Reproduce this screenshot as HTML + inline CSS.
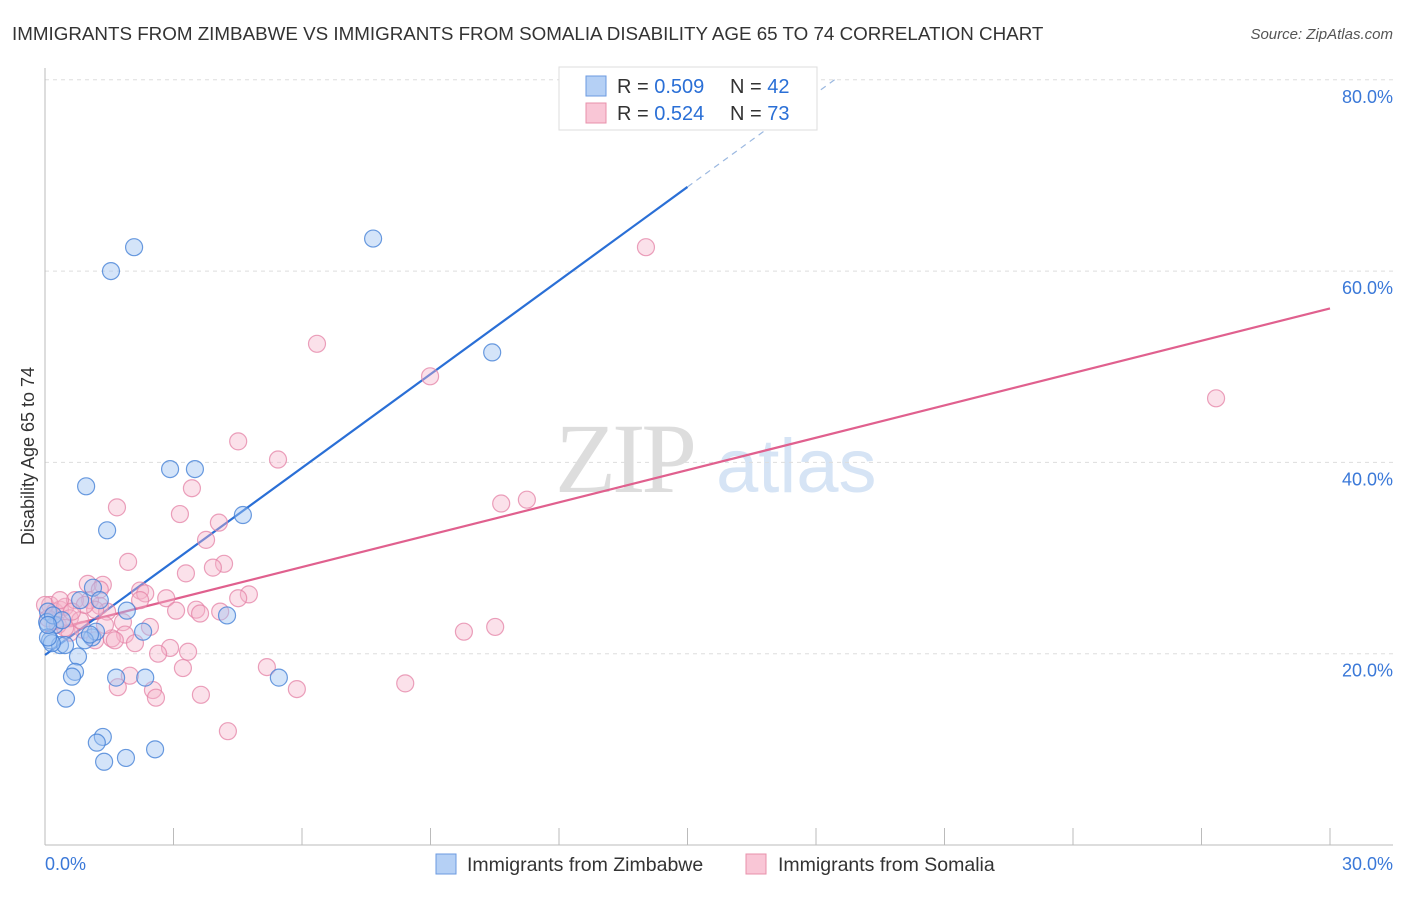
<!DOCTYPE html>
<html><head><meta charset="utf-8"><style>
body{margin:0;background:#fff;font-family:"Liberation Sans",sans-serif;}
</style></head><body>
<svg width="1406" height="892" xmlns="http://www.w3.org/2000/svg" style="font-family:'Liberation Sans',sans-serif">
<text x="12" y="40" font-size="18.8" fill="#333">IMMIGRANTS FROM ZIMBABWE VS IMMIGRANTS FROM SOMALIA DISABILITY AGE 65 TO 74 CORRELATION CHART</text>
<text x="1393" y="39" font-size="15" fill="#555" font-style="italic" text-anchor="end">Source: ZipAtlas.com</text>
<g><text x="555" y="492" font-size="100" fill="#ddd" font-family="Liberation Serif" letter-spacing="-4">ZIP</text><text x="716" y="492" font-size="76" fill="#d6e4f5">atlas</text></g>
<g id="grid"></g>
<g id="axes"></g>
<text transform="translate(34,456) rotate(-90)" font-size="18" fill="#333" text-anchor="middle">Disability Age 65 to 74</text>
<g id="lines"></g>
<g id="pts"></g>
<g>
<rect x="559" y="67" width="258" height="63" fill="#fff" stroke="#ddd"/>
<rect x="586" y="76" width="20" height="20" fill="#b5d0f5" stroke="#6b9ae0"/>
<rect x="586" y="103" width="20" height="20" fill="#f9c6d6" stroke="#e890ab"/>
<text x="617" y="93" font-size="20" fill="#333">R = <tspan fill="#2a6fd6">0.509</tspan></text>
<text x="730" y="93" font-size="20" fill="#333">N = <tspan fill="#2a6fd6">42</tspan></text>
<text x="617" y="120" font-size="20" fill="#333">R = <tspan fill="#2a6fd6">0.524</tspan></text>
<text x="730" y="120" font-size="20" fill="#333">N = <tspan fill="#2a6fd6">73</tspan></text>
</g>
<g>
<rect x="436" y="854" width="20" height="20" fill="#b5d0f5" stroke="#6b9ae0"/>
<text x="467" y="871" font-size="19.5" fill="#333">Immigrants from Zimbabwe</text>
<rect x="746" y="854" width="20" height="20" fill="#f9c6d6" stroke="#e890ab"/>
<text x="778" y="871" font-size="19.5" fill="#333">Immigrants from Somalia</text>
</g>
</svg>
<script>
const blueX=[2.08,1.54,7.66,10.44,0.96,2.92,3.50,1.45,4.62,4.25,1.91,1.12,0.82,0.07,0.23,0.12,0.35,0.47,1.10,1.19,2.29,0.77,0.70,0.63,1.66,2.34,5.46,0.49,1.35,1.21,1.89,1.38,2.57,0.05,0.16,0.93,1.05,0.19,0.07,0.40,1.28,0.07];
const blueY=[62.5,60.0,63.4,51.5,37.5,39.3,39.3,32.9,34.5,24.0,24.5,26.9,25.6,24.4,23.0,21.4,20.9,20.9,21.7,22.3,22.3,19.7,18.1,17.6,17.5,17.5,17.5,15.3,11.3,10.7,9.1,8.7,10.0,23.3,21.1,21.4,22.0,24.0,21.7,23.5,25.6,23.0];
const pinkX=[14.03,6.35,8.99,27.34,4.51,5.44,3.43,11.25,10.65,1.68,3.15,4.06,3.76,1.94,4.18,3.29,3.92,1.00,1.35,2.22,2.34,4.76,4.51,2.83,1.28,3.53,1.45,3.06,3.62,4.09,1.82,2.45,1.87,1.56,1.17,0.89,0.58,2.10,2.92,3.34,2.64,9.78,10.51,5.18,3.22,8.41,5.88,1.98,1.70,2.52,2.59,3.64,4.27,0.12,0.23,0.35,0.47,0.07,0.30,0.58,0.82,1.05,1.17,0.70,0.0,1.28,0.47,1.40,0.93,2.22,1.63,0.35,0.63];
const pinkY=[62.5,52.4,49.0,46.7,42.2,40.3,37.3,36.1,35.7,35.3,34.6,33.7,31.9,29.6,29.4,28.4,29.0,27.3,27.2,26.6,26.3,26.2,25.8,25.8,25.0,24.6,24.4,24.5,24.2,24.4,23.3,22.8,22.0,21.6,21.4,22.5,22.2,21.1,20.6,20.2,20.0,22.3,22.8,18.6,18.5,16.9,16.3,17.7,16.5,16.2,15.4,15.7,11.9,25.1,24.4,24.6,24.9,23.7,23.0,23.7,23.5,25.6,24.6,25.6,25.1,26.7,22.7,23.0,25.1,25.6,21.4,25.6,24.4];
const yTicks=[20,40,60,80];
const yTickLabels=["20.0%","40.0%","60.0%","80.0%"];
const xTicks=[0,3,6,9,12,15,18,21,24,27,30];
const blueTrend={x0:0,y0:19.86,x1:15,y1:68.8,xd:18.45,yd:80.06};
const pinkTrend={x0:0,y0:22.3,x1:30,y1:56.1};
const NS="http://www.w3.org/2000/svg";
const X=v=>45+v*(1330-45)/30;
const Y=v=>845-v*9.565;
function mk(tag,attrs,parent){const e=document.createElementNS(NS,tag);for(const k in attrs)e.setAttribute(k,attrs[k]);document.getElementById(parent).appendChild(e);return e;}
yTicks.forEach((t,i)=>{
 let l=mk('line',{x1:45,x2:1393,y1:Y(t),y2:Y(t),stroke:'#ddd','stroke-dasharray':'4,4'},'grid');
 
 
 let tx=mk('text',{x:1393,y:Y(t)+23,'font-size':18,fill:'#3a78d8','text-anchor':'end'},'grid');
 tx.textContent=yTickLabels[i];
 
 
});
let ax=mk('line',{x1:45,x2:45,y1:68,y2:845,stroke:'#bbb'},'axes');


let bx=mk('line',{x1:45,x2:1393,y1:845,y2:845,stroke:'#bbb'},'axes');


xTicks.forEach(t=>{
 let l=mk('line',{x1:X(t),x2:X(t),y1:828,y2:845,stroke:'#bbb'},'axes');
 
 
});
let xl=mk('text',{x:45,y:870,'font-size':18,fill:'#3a78d8'},'axes');xl.textContent='0.0%';


let xr=mk('text',{x:1393,y:870,'font-size':18,fill:'#3a78d8','text-anchor':'end'},'axes');xr.textContent='30.0%';


function dots(xs,ys,fill,stroke,name){xs.forEach((x,i)=>{
 let c=mk('circle',{cx:X(x),cy:Y(ys[i]),r:8.5,fill:fill,stroke:stroke,'stroke-width':1.2},'pts');
 
 
});}
dots(pinkX,pinkY,'rgba(246,180,202,0.4)','rgba(228,130,165,0.75)','somalia-point');
dots(blueX,blueY,'rgba(160,196,242,0.45)','rgba(70,130,215,0.8)','zimbabwe-point');
let pl=mk('line',{x1:X(pinkTrend.x0),y1:Y(pinkTrend.y0),x2:X(pinkTrend.x1),y2:Y(pinkTrend.y1),stroke:'#e0608e','stroke-width':2.2},'lines');


let bl=mk('line',{x1:X(blueTrend.x0),y1:Y(blueTrend.y0),x2:X(blueTrend.x1),y2:Y(blueTrend.y1),stroke:'#2a6fd6','stroke-width':2.2},'lines');


let bd=mk('line',{x1:X(blueTrend.x1),y1:Y(blueTrend.y1),x2:X(blueTrend.xd),y2:Y(blueTrend.yd),stroke:'#9bb8e0','stroke-width':1.2,'stroke-dasharray':'6,5'},'lines');


</script>
</body></html>
